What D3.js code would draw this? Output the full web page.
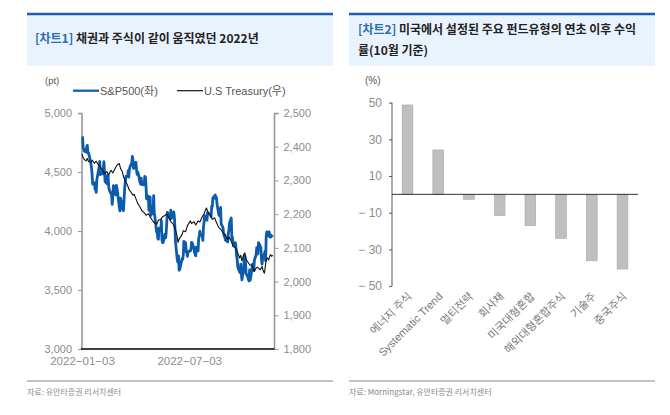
<!DOCTYPE html>
<html><head><meta charset="utf-8">
<script src="https://cdn.jsdelivr.net/npm/d3@7"></script>
<style>
body{margin:0;background:#fff;}
svg{display:block;font-family:"Liberation Sans","Noto Sans CJK KR",Arial,sans-serif;}
</style></head><body>
<svg id="c" width="670" height="415"></svg>
<script>
// ---------- Chart 1 data ----------
const spDates = ["01-03","01-04","01-05","01-06","01-07","01-10","01-11","01-12","01-13","01-14","01-18","01-19","01-20","01-21","01-24","01-25","01-26","01-27","01-28","01-31",
"02-01","02-02","02-03","02-04","02-07","02-08","02-09","02-10","02-11","02-14","02-15","02-16","02-17","02-18","02-22","02-23","02-24","02-25","02-28",
"03-01","03-02","03-03","03-04","03-07","03-08","03-09","03-10","03-11","03-14","03-15","03-16","03-17","03-18","03-21","03-22","03-23","03-24","03-25","03-28","03-29","03-30","03-31",
"04-01","04-04","04-05","04-06","04-07","04-08","04-11","04-12","04-13","04-14","04-18","04-19","04-20","04-21","04-22","04-25","04-26","04-27","04-28","04-29",
"05-02","05-03","05-04","05-05","05-06","05-09","05-10","05-11","05-12","05-13","05-16","05-17","05-18","05-19","05-20","05-23","05-24","05-25","05-26","05-27","05-31",
"06-01","06-02","06-03","06-06","06-07","06-08","06-09","06-10","06-13","06-14","06-15","06-16","06-17","06-21","06-22","06-23","06-24","06-27","06-28","06-29","06-30",
"07-01","07-05","07-06","07-07","07-08","07-11","07-12","07-13","07-14","07-15","07-18","07-19","07-20","07-21","07-22","07-25","07-26","07-27","07-28","07-29",
"08-01","08-02","08-03","08-04","08-05","08-08","08-09","08-10","08-11","08-12","08-15","08-16","08-17","08-18","08-19","08-22","08-23","08-24","08-25","08-26","08-29","08-30","08-31",
"09-01","09-02","09-06","09-07","09-08","09-09","09-12","09-13","09-14","09-15","09-16","09-19","09-20","09-21","09-22","09-23","09-26","09-27","09-28","09-29","09-30",
"10-03","10-04","10-05","10-06","10-07","10-10","10-11","10-12","10-13","10-14","10-17","10-18","10-19","10-20","10-21","10-24","10-25","10-26","10-27","10-28","10-31",
"11-01","11-02","11-03","11-04","11-07","11-08","11-09","11-10","11-11","11-14","11-15","11-16","11-17","11-18","11-21"];
const spValues = [4797,4794,4701,4696,4677,4670,4713,4726,4659,4663,4577,4533,4483,4398,4410,4356,4350,4327,4432,4516,
4547,4589,4477,4501,4484,4522,4587,4504,4419,4402,4471,4475,4380,4349,4305,4226,4289,4385,4374,
4306,4387,4363,4329,4201,4171,4278,4260,4204,4173,4262,4358,4412,4463,4461,4512,4456,4520,4543,4576,4632,4602,4530,
4546,4583,4525,4481,4500,4488,4413,4397,4447,4393,4392,4462,4459,4394,4272,4296,4175,4184,4288,4132,
4155,4175,4300,4147,4123,3991,4001,3935,3930,4024,4008,4089,3924,3901,3901,3974,3941,3979,4058,4158,4132,
4101,4177,4109,4121,4161,4116,4018,3901,3750,3735,3790,3667,3675,3765,3760,3796,3912,3900,3822,3819,3785,
3825,3831,3845,3903,3899,3854,3819,3802,3790,3863,3831,3937,3960,3999,3962,3967,3921,4024,4072,4130,
4119,4091,4155,4152,4145,4140,4122,4210,4207,4280,4297,4305,4274,4284,4228,4138,4129,4141,4199,4058,4031,3986,3955,
3967,3924,3908,3980,4006,4067,4110,3933,3946,3901,3873,3900,3856,3790,3758,3693,3655,3647,3719,3640,3586,
3678,3791,3783,3745,3640,3612,3589,3577,3670,3583,3678,3720,3695,3666,3753,3797,3859,3831,3807,3901,3872,
3856,3760,3720,3771,3807,3828,3749,3956,3993,3957,3992,3959,3947,3965,3950];

const ustDates = ["01-03","01-05","01-07","01-10","01-12","01-14","01-18","01-20","01-24","01-27","01-31",
"02-03","02-07","02-10","02-14","02-17","02-21","02-24","02-28","03-03","03-07","03-09","03-12","03-14","03-17","03-21","03-24","03-28","03-30",
"04-01","04-04","04-07","04-11","04-14","04-18","04-21","04-25","04-28","05-02","05-05","05-09","05-12","05-16","05-19","05-23","05-26","05-31",
"06-02","06-06","06-09","06-13","06-14","06-16","06-21","06-23","06-27","06-30","07-05","07-07","07-11","07-14","07-18","07-21","07-25","07-28",
"08-01","08-04","08-08","08-11","08-15","08-18","08-22","08-25","08-29","09-01","09-06","09-08","09-12","09-15","09-19","09-22","09-26","09-28","09-30",
"10-03","10-05","10-07","10-10","10-13","10-17","10-21","10-24","10-26","10-31","11-03","11-05","11-07","11-10","11-12","11-14","11-17","11-19","11-21"];
const ustValues = [2378,2368,2362,2358,2365,2356,2354,2360,2351,2357,2345,
2340,2330,2320,2326,2317,2330,2322,2336,2345,2350,2336,2326,2311,2300,2285,2271,2262,2256,
2259,2246,2232,2221,2210,2205,2197,2201,2192,2181,2175,2170,2182,2185,2192,2196,2201,2186,
2178,2170,2160,2131,2116,2126,2140,2151,2148,2166,2180,2172,2178,2168,2180,2177,2192,2201,
2218,2205,2196,2185,2189,2175,2160,2156,2145,2140,2125,2132,2120,2106,2100,2090,2070,2078,2061,
2080,2085,2066,2058,2050,2048,2030,2040,2043,2035,2045,2031,2025,2065,2070,2064,2080,2075,2078];

const leftTicks = [3000,3500,4000,4500,5000];
const rightTicks = [1800,1900,2000,2100,2200,2300,2400,2500];
const xTickDates = ["2022-01-03","2022-07-03"];

// ---------- Chart 2 data ----------
const categories = ["에너지 주식","Systematic Trend","멀티전략","회사채","미국대형혼합","해외대형혼합주식","기술주","중국주식"];
const returns = [48.7,24.2,-2.7,-11.6,-17.1,-24.0,-36.2,-40.7];
const barTicks = [50,30,10,-10,-30,-50];

const svg = d3.select("#c");
const parse = d3.timeParse("%Y-%m-%d");
const CJK = "'Noto Sans CJK KR',sans-serif";

// ----- panel headers -----
function header(x0, x1){
  svg.append("rect").attr("x",x0).attr("y",14).attr("width",x1-x0).attr("height",52).attr("fill","#e9f3fd");
  svg.append("line").attr("x1",x0).attr("x2",x1).attr("y1",14).attr("y2",14).attr("stroke","#1f5fae").attr("stroke-width",2.5);
}
header(27,333);
header(349,655);
function title(x,y,tag,rest){
  const t = svg.append("text").attr("x",x).attr("y",y).attr("font-size",12).attr("font-weight","bold").style("font-family",CJK);
  t.append("tspan").attr("fill","#2a6bb3").text(tag);
  t.append("tspan").attr("fill","#222").text(rest);
}
title(35,43,"[차트1] ","채권과 주식이 같이 움직였던 2022년");
title(358,34,"[차트2] ","미국에서 설정된 주요 펀드유형의 연초 이후 수익");
svg.append("text").attr("x",358).attr("y",55).attr("font-size",12).attr("font-weight","bold").attr("fill","#222").style("font-family",CJK).text("률(10월 기준)");

// ----- source lines -----
function source(x0,x1,txt){
  svg.append("line").attr("x1",x0).attr("x2",x1).attr("y1",381).attr("y2",381).attr("stroke","#888").attr("stroke-width",1);
  svg.append("text").attr("x",x0).attr("y",395).attr("font-size",8).attr("fill","#8a8a8a").style("font-family",CJK).text(txt);
}
source(27,333,"자료: 유안타증권 리서치센터");
source(349,655,"자료: Morningstar, 유안타증권 리서치센터");

// ----- Chart 1 -----
const x = d3.scaleTime().domain([parse("2022-01-03"), parse("2022-11-24")]).range([82,274.5]);
const yL = d3.scaleLinear().domain([3000,5000]).range([349,113]);
const yR = d3.scaleLinear().domain([1800,2500]).range([349,113]);
const sp = spDates.map((d,i)=>({d:parse("2022-"+d), v:spValues[i]}));
const ust = ustDates.map((d,i)=>({d:parse("2022-"+d), v:ustValues[i]}));

const tickCol = "#8c8c8c";
const gL = svg.append("g").attr("transform","translate(82,0)")
  .call(d3.axisLeft(yL).tickValues(leftTicks).tickSize(4).tickFormat(d3.format(",")));
const gR = svg.append("g").attr("transform","translate(274.5,0)")
  .call(d3.axisRight(yR).tickValues(rightTicks).tickSize(4).tickFormat(d3.format(",")));
[gL,gR].forEach(g=>{
  g.select(".domain").attr("stroke","#999").attr("stroke-width",1.6).attr("d", g===gL ? "M-4,113.5H0V349" : "M0,349V113.5H4");
  g.selectAll(".tick line").attr("stroke","#999");
  g.selectAll(".tick text").attr("fill",tickCol).attr("font-size",11).style("font-family","'Liberation Sans',Arial,sans-serif");
});
gL.selectAll(".tick text").attr("x",-10);
gR.selectAll(".tick text").attr("x",9);

svg.append("path").datum(sp).attr("fill","none").attr("stroke","#0b5cad").attr("stroke-width",2.8).attr("stroke-linejoin","round")
  .attr("d", d3.line().x(d=>x(d.d)).y(d=>yL(d.v)));
svg.append("path").datum(ust).attr("fill","none").attr("stroke","#111").attr("stroke-width",1.1).attr("stroke-linejoin","round")
  .attr("d", d3.line().x(d=>x(d.d)).y(d=>yR(d.v)));

const gX = svg.append("g").attr("transform","translate(0,349)")
  .call(d3.axisBottom(x).tickValues(xTickDates.map(parse)).tickSize(0).tickFormat(d3.timeFormat("%Y−%m−%d")));
gX.select(".domain").attr("stroke","#000").attr("stroke-width",1.5).attr("d","M81,0H274.5");
gX.selectAll(".tick text").attr("fill",tickCol).attr("font-size",11.5).attr("dy",0).attr("y",16).style("font-family","'Liberation Sans',Arial,sans-serif");

svg.append("text").attr("x",45).attr("y",84).attr("font-size",9.5).attr("fill","#555").text("(pt)");
svg.append("line").attr("x1",73).attr("x2",99).attr("y1",90.7).attr("y2",90.7).attr("stroke","#0b5cad").attr("stroke-width",2.2);
svg.append("text").attr("x",100).attr("y",95).attr("font-size",11).attr("fill","#555").text("S&P500(좌)");
svg.append("line").attr("x1",177).attr("x2",203).attr("y1",90.7).attr("y2",90.7).attr("stroke","#111").attr("stroke-width",1.2);
svg.append("text").attr("x",204).attr("y",95).attr("font-size",11).attr("fill","#555").text("U.S Treasury(우)");

// ----- Chart 2 -----
const xb = d3.scaleBand().domain(categories).range([392,638]).paddingInner(0.65).paddingOuter(0.33);
const yb = d3.scaleLinear().domain([-50,50]).range([286.1,102.6]);
svg.append("text").attr("x",365).attr("y",84).attr("font-size",10).attr("fill","#555").text("(%)");

svg.selectAll("rect.bar").data(returns).join("rect").attr("class","bar")
  .attr("x",(d,i)=>xb(categories[i])).attr("width",xb.bandwidth())
  .attr("y",d=>yb(Math.max(0,d))).attr("height",d=>Math.abs(yb(d)-yb(0)))
  .attr("fill","#bfbfbf").attr("stroke","#a8a8a8").attr("stroke-width",0.6);

const gB = svg.append("g").attr("transform","translate(392,0)")
  .call(d3.axisLeft(yb).tickValues(barTicks).tickSize(3).tickFormat(d=> d<0 ? "− "+Math.abs(d) : d));
gB.select(".domain").attr("stroke","#555").attr("stroke-width",1).attr("d","M0,102.6V286.1");
gB.selectAll(".tick line").attr("stroke","#555");
gB.selectAll(".tick text").attr("fill",tickCol).attr("font-size",12).attr("x",-10).style("font-family","'Liberation Sans',Arial,sans-serif");

svg.append("line").attr("x1",392).attr("x2",638).attr("y1",yb(0)).attr("y2",yb(0)).attr("stroke","#333").attr("stroke-width",1);

svg.selectAll("text.cat").data(categories).join("text").attr("class","cat")
  .attr("transform",d=>`translate(${xb(d)+xb.bandwidth()/2+5},${297}) rotate(-45)`)
  .attr("text-anchor","end").attr("font-size",11).attr("fill","#777")
  .text(d=>d);
</script></body></html>
